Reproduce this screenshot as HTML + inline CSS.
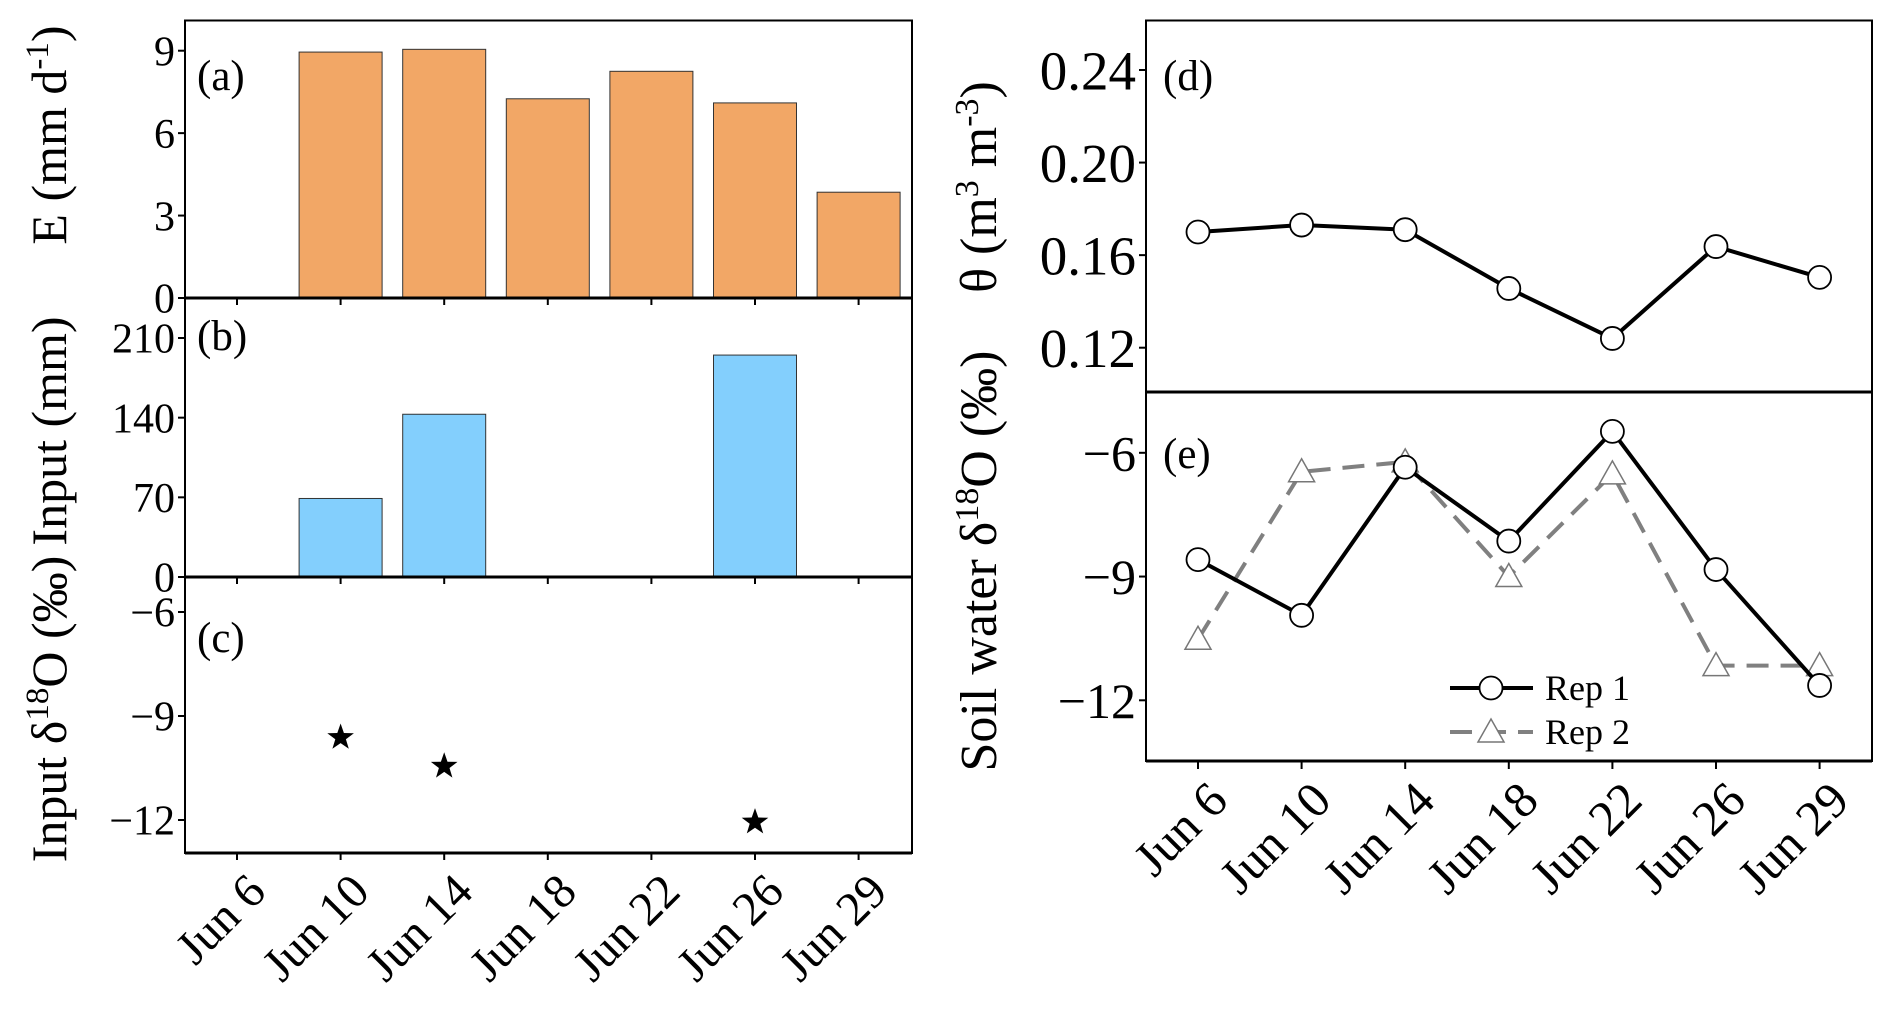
<!DOCTYPE html>
<html><head><meta charset="utf-8"><style>
body{margin:0;background:#fff}
svg{display:block;font-family:"Liberation Serif",serif}
</style></head><body>
<svg id="c" width="1892" height="1020" viewBox="0 0 1892 1020" xmlns="http://www.w3.org/2000/svg"></svg>
<script>
const cats = ["Jun 6","Jun 10","Jun 14","Jun 18","Jun 22","Jun 26","Jun 29"];
const evapValues = [null, 8.95, 9.05, 7.25, 8.25, 7.1, 3.85];
const inputValues = [null, 69, 143, null, null, 195, null];
const inputD18O = [null, -9.62, -10.45, null, null, -12.06, null];
const thetaValues = [0.170, 0.173, 0.171, 0.1456, 0.124, 0.1637, 0.1504];
const rep1Values = [-8.59, -9.94, -6.35, -8.14, -5.48, -8.83, -11.64];
const rep2Values = [-10.52, -6.46, -6.22, -9.0, -6.51, -11.16, -11.16];
const ticksA = [0,3,6,9];
const ticksB = [0,70,140,210];
const ticksC = [-6,-9,-12];
const ticksD = [0.12,0.16,0.20,0.24];
const ticksE = [-6,-9,-12];

const NS="http://www.w3.org/2000/svg";
const svg=document.getElementById('c');
function mk(tag,attrs,parent){const e=document.createElementNS(NS,tag);for(const k in attrs)e.setAttribute(k,attrs[k]);(parent||svg).appendChild(e);return e;}
function lin(d0,d1,r0,r1){return v=>r0+(v-d0)/(d1-d0)*(r1-r0);}

const xL=i=>237+i*103.6;
const xR=i=>1198+i*103.6;
const LX0=185,LX1=912,RX0=1146,RX1=1872;
const LT=20.5,LA=298,LB=577,LC=853;
const RT=20.5,RD=392,RE=761;
const yA=lin(0,9,LA,50.7), yB=lin(0,210,LB,338), yC=lin(-6,-12,612,820);
const yD=lin(0.12,0.24,347.7,70), yE=lin(-6,-12,452.8,700.3);

function yTicks(ticks,ys,x0,fs,fmt,name){
  ticks.forEach(t=>{
    const l=mk('line',{x1:x0-7,x2:x0,y1:ys(t),y2:ys(t),stroke:'#000','stroke-width':2});
    
    
    const tx=mk('text',{x:x0-10,y:ys(t)+fs*0.35,'text-anchor':'end','font-size':fs});
    
    
    tx.textContent=fmt(t);
  });
}
const minus=t=>String(t).replace('-','\u2212');

evapValues.forEach((v,i)=>{ if(v==null)return;
  const r=mk('rect',{x:xL(i)-41.5,y:yA(v),width:83,height:yA(0)-yA(v),fill:'#F2A766',stroke:'#333','stroke-width':1});
  
  
});
inputValues.forEach((v,i)=>{ if(v==null)return;
  const r=mk('rect',{x:xL(i)-41.5,y:yB(v),width:83,height:yB(0)-yB(v),fill:'#83CFFD',stroke:'#333','stroke-width':1});
  
  
});
inputD18O.forEach((v,i)=>{ if(v==null)return;
  const cx=xL(i),cy=yC(v),R=14,r2=5.6;let p='';
  for(let k=0;k<10;k++){const a=-Math.PI/2+k*Math.PI/5;const rr=k%2?r2:R;p+=(k?'L':'M')+(cx+rr*Math.cos(a)).toFixed(1)+','+(cy+rr*Math.sin(a)).toFixed(1);}
  const s=mk('path',{d:p+'Z',fill:'#000'});
  
  
});
[[LT,LA],[LA,LB],[LB,LC]].forEach((b,k)=>{
  const f=mk('rect',{x:LX0,y:b[0],width:LX1-LX0,height:b[1]-b[0],fill:'none',stroke:'#000','stroke-width':2});
  
  
});
mk('line',{x1:LX0,x2:LX1,y1:LA,y2:LA,stroke:'#000','stroke-width':3});
mk('line',{x1:LX0,x2:LX1,y1:LB,y2:LB,stroke:'#000','stroke-width':3});
mk('line',{x1:LX0,x2:LX1,y1:LC,y2:LC,stroke:'#000','stroke-width':3});
yTicks(ticksA,yA,LX0,42,String,'a-y');
yTicks(ticksB,yB,LX0,42,String,'b-y');
yTicks(ticksC,yC,LX0,42,minus,'c-y');
[LA,LB,LC].forEach(y=>cats.forEach((c,i)=>{mk('line',{x1:xL(i),x2:xL(i),y1:y,y2:y+7,stroke:'#000','stroke-width':2});}));
cats.forEach((c,i)=>{
  const t=mk('text',{transform:`translate(${xL(i)+31},${LC+41}) rotate(-45)`,'text-anchor':'end','font-size':48});
  
  
  t.textContent=c;
});

const fD=mk('rect',{x:RX0,y:RT,width:RX1-RX0,height:RD-RT,fill:'none',stroke:'#000','stroke-width':2});

const fE=mk('rect',{x:RX0,y:RD,width:RX1-RX0,height:RE-RD,fill:'none',stroke:'#000','stroke-width':2});

mk('line',{x1:RX0,x2:RX1,y1:RD,y2:RD,stroke:'#000','stroke-width':3});
mk('line',{x1:RX0,x2:RX1,y1:RE,y2:RE,stroke:'#000','stroke-width':3});
yTicks(ticksD,yD,RX0,55,t=>t.toFixed(2),'d-y');
yTicks(ticksE,yE,RX0,50,minus,'e-y');
cats.forEach((c,i)=>{mk('line',{x1:xR(i),x2:xR(i),y1:RE,y2:RE+8,stroke:'#000','stroke-width':2});
  const t=mk('text',{transform:`translate(${xR(i)+32},${RE+42}) rotate(-45)`,'text-anchor':'end','font-size':50});
  
  
  t.textContent=c;
});
function series(vals,xs,ys,opt,name){
  const pts=vals.map((v,i)=>xs(i)+','+ys(v)).join(' ');
  const pl=mk('polyline',{points:pts,fill:'none',stroke:opt.color,'stroke-width':4,'stroke-dasharray':opt.dash||'none'});
  
  
  vals.forEach((v,i)=>{
    let m;
    if(opt.tri){const x=xs(i),y=ys(v);m=mk('path',{d:`M${x},${y-13}L${x+13},${y+10}L${x-13},${y+10}Z`,fill:'#fff',stroke:'#777','stroke-width':1.5});}
    else m=mk('circle',{cx:xs(i),cy:ys(v),r:11.5,fill:'#fff',stroke:'#000','stroke-width':1.8});
    
    
  });
}
series(thetaValues,xR,yD,{color:'#000'},'theta');
series(rep2Values,xR,yE,{color:'#808080',dash:'22 12',tri:true},'rep2');
series(rep1Values,xR,yE,{color:'#000'},'rep1');
const lg=mk('g',{});
mk('line',{x1:1450,x2:1533,y1:688,y2:688,stroke:'#000','stroke-width':4},lg);
mk('circle',{cx:1491,cy:688,r:11.5,fill:'#fff',stroke:'#000','stroke-width':1.8},lg);
mk('line',{x1:1450,x2:1533,y1:732,y2:732,stroke:'#808080','stroke-width':4,'stroke-dasharray':'22 12'},lg);
mk('path',{d:'M1491,719L1504,742L1478,742Z',fill:'#fff',stroke:'#777','stroke-width':1.5},lg);
const l1=mk('text',{x:1545,y:700,'font-size':36},lg);l1.textContent='Rep 1';

const l2=mk('text',{x:1545,y:744,'font-size':36},lg);l2.textContent='Rep 2';


[['(a)',197,90],['(b)',197,350],['(c)',197,652],['(d)',1163,90],['(e)',1163,468]].forEach(p=>{
  const t=mk('text',{x:p[1],y:p[2],'font-size':43});
  
  
  t.textContent=p[0];
});
</script>
<div style="position:absolute;left:0;top:0;width:1892px;height:1020px;pointer-events:none">
<svg width="1892" height="1020" style="position:absolute;left:0;top:0" font-family="Liberation Serif, serif">
<text transform="translate(66,135) rotate(-90)" text-anchor="middle" font-size="50">E (mm d<tspan dy="-18" font-size="33">-1</tspan><tspan dy="18">)</tspan></text>
<text transform="translate(66,431) rotate(-90)" text-anchor="middle" font-size="50">Input (mm)</text>
<text transform="translate(66,709) rotate(-90)" text-anchor="middle" font-size="50">Input δ<tspan dy="-18" font-size="33">18</tspan><tspan dy="18">O (‰)</tspan></text>
<text transform="translate(996,187) rotate(-90)" text-anchor="middle" font-size="52">θ (m<tspan dy="-18" font-size="34">3</tspan><tspan dy="18"> m</tspan><tspan dy="-18" font-size="34">-3</tspan><tspan dy="18">)</tspan></text>
<text transform="translate(996,561) rotate(-90)" text-anchor="middle" font-size="52">Soil water δ<tspan dy="-18" font-size="34">18</tspan><tspan dy="18">O (‰)</tspan></text>
</svg></div>
</body></html>
